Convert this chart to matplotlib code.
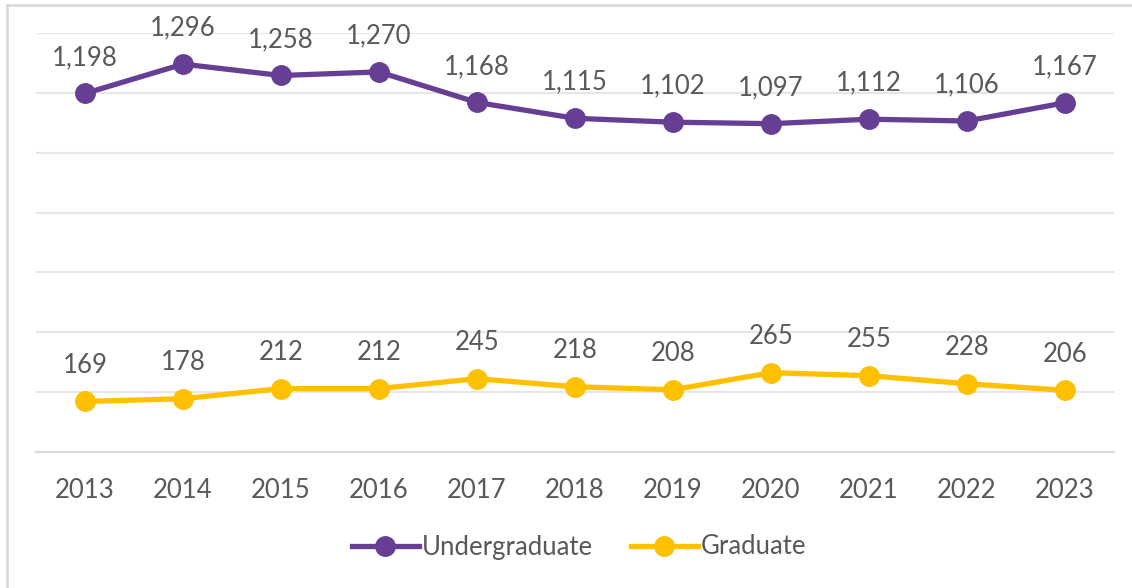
import matplotlib
matplotlib.use("Agg")
import matplotlib.pyplot as plt
from matplotlib.lines import Line2D

years = ["2013", "2014", "2015", "2016", "2017", "2018", "2019", "2020", "2021", "2022", "2023"]
undergrad = [1198, 1296, 1258, 1270, 1168, 1115, 1102, 1097, 1112, 1106, 1167]
graduate = [169, 178, 212, 212, 245, 218, 208, 265, 255, 228, 206]
series_names = ["Undergraduate", "Graduate"]

PURPLE = "#663F95"
GOLD = "#FFC000"
TEXT = "#595959"
GRID = "#E6E6E6"

plt.rcParams['font.family'] = ['Lato', 'DejaVu Sans']

fig = plt.figure(figsize=(11.32, 5.88), dpi=100)
ax = fig.add_axes([36/1132, 1 - 452/588, (1114 - 36)/1132, (452 - 33)/588])

x = list(range(len(years)))
for vals, col, name in [(undergrad, PURPLE, series_names[0]), (graduate, GOLD, series_names[1])]:
    ax.plot(x, vals, color=col, lw=3.8, marker='o', ms=14, solid_capstyle='round', zorder=3, label=name)
    for xi, v in zip(x, vals):
        ax.annotate(f"{v:,}", (xi, v), xytext=(0, 26), textcoords='offset points',
                    ha='center', va='center', fontsize=18.5, color=TEXT)

ax.set_xlim(-0.5, len(years) - 0.5)
ax.set_ylim(0, 1400)
ax.set_yticks(range(0, 1401, 200))
ax.yaxis.grid(True, color=GRID, lw=1.5)
ax.set_axisbelow(True)
ax.tick_params(axis='y', left=False, labelleft=False)
ax.set_xticks(x)
ax.set_xticklabels(years, fontsize=18.5, color=TEXT)
ax.tick_params(axis='x', length=0, pad=19)
for s in ['top', 'right', 'left']:
    ax.spines[s].set_visible(False)
ax.spines['bottom'].set_color('#D9D9D9')
ax.spines['bottom'].set_linewidth(1.5)

handles = [Line2D([], [], color=PURPLE, lw=3.8, marker='o', ms=14),
           Line2D([], [], color=GOLD, lw=3.8, marker='o', ms=14)]
fig.legend(handles, series_names, loc='center', bbox_to_anchor=(579/1132, 1 - 547/588),
           ncol=2, frameon=False, fontsize=18.5, labelcolor=TEXT, handlelength=2.6,
           handletextpad=0.1, columnspacing=1.5)

# chart frame (left and top edges)
fig.add_artist(Line2D([7/1132, 7/1132], [0, 1 - 5/588], color='#D9D9D9', lw=2, transform=fig.transFigure))
fig.add_artist(Line2D([7/1132, 1], [1 - 5/588, 1 - 5/588], color='#D9D9D9', lw=2, transform=fig.transFigure))

fig.savefig("out.png", dpi=100, facecolor='white')
